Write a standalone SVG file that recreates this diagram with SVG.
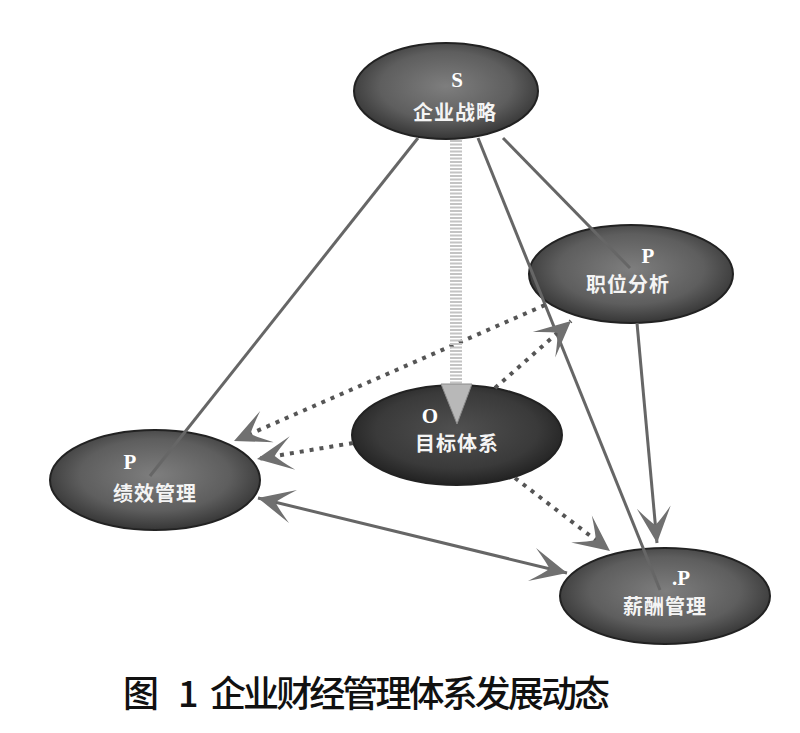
<svg xmlns="http://www.w3.org/2000/svg" width="800" height="733" viewBox="0 0 800 733">
<style>
.node{stroke:#222;stroke-width:2}
.lt{font-family:"Liberation Serif",serif;font-size:21px;font-weight:bold;fill:#fff;text-anchor:middle}
.lb{font-family:"Noto Sans CJK SC",sans-serif;font-size:20px;font-weight:bold;fill:#f4f4f4;text-anchor:middle;letter-spacing:1px}
.solid{fill:none;stroke:#666;stroke-width:3}
.dot{fill:none;stroke:#555;stroke-width:4;stroke-dasharray:4 6}
.cap{font-family:"Noto Sans CJK SC",sans-serif;font-size:36px;font-weight:500;fill:#111}
</style>
<defs>
<radialGradient id="g" cx="50%" cy="45%" r="55%">
<stop offset="0" stop-color="#7e7e7e"/>
<stop offset="0.65" stop-color="#5e5e5e"/>
<stop offset="1" stop-color="#363636"/>
</radialGradient>
<radialGradient id="gd" cx="50%" cy="45%" r="55%">
<stop offset="0" stop-color="#505050"/>
<stop offset="0.7" stop-color="#3a3a3a"/>
<stop offset="1" stop-color="#222"/>
</radialGradient>
<marker id="ah" viewBox="-38 -20 40 40" refX="0" refY="0" markerWidth="40" markerHeight="40" markerUnits="userSpaceOnUse" orient="auto-start-reverse">
<path d="M0,0 L-36,-17 Q-22,-5 -18,0 Q-22,5 -36,17 Z" fill="#707070"/>
</marker>
</defs>
<rect width="800" height="733" fill="#fff"/>
<g id="nodes">
<g id="node-s"><ellipse class="node" cx="446" cy="91" rx="92" ry="48" fill="url(#g)"/><text class="lt" x="457" y="87">S</text><text class="lb" x="455" y="120">企业战略</text></g>
<g id="node-p1"><ellipse class="node" cx="631" cy="274" rx="102" ry="49" fill="url(#g)"/><text class="lt" x="648" y="263">P</text><text class="lb" x="628" y="292">职位分析</text></g>
<g id="node-o"><ellipse class="node" cx="457" cy="435" rx="105" ry="50" fill="url(#gd)" stroke="#111"/><text class="lt" x="430" y="423">O</text><text class="lb" x="457" y="451">目标体系</text></g>
<g id="node-p2"><ellipse class="node" cx="155" cy="480" rx="105" ry="50" fill="url(#g)"/><text class="lt" x="130" y="469">P</text><text class="lb" x="155" y="501">绩效管理</text></g>
<g id="node-p3"><ellipse class="node" cx="665" cy="596" rx="105" ry="48" fill="url(#g)"/><text class="lt" x="681" y="585">.P</text><text class="lb" x="665" y="614">薪酬管理</text></g>
</g>
<g id="connectors">
<path class="solid" d="M418,138 L150,476"/>
<path class="solid" d="M503,138 L630,268"/>
<path class="solid" d="M478,138 L660,590"/>
<path class="solid" d="M637,323 L657,543" marker-end="url(#ah)"/>
<path class="solid" d="M258,498 L567,573" marker-start="url(#ah)" marker-end="url(#ah)"/>
<path class="dot" d="M545,305 L234,441" marker-end="url(#ah)"/>
<path class="dot" d="M353,443 L257,459" marker-end="url(#ah)"/>
<path class="dot" d="M495,388 L571,321" marker-end="url(#ah)"/>
<path class="dot" d="M515,478 L610,551" marker-end="url(#ah)"/>
<path d="M456,140 L456,386" fill="none" stroke="#c4c4c4" stroke-width="12" stroke-dasharray="2 1.5"/>
<path d="M441,384 L472,384 L457,424 Z" fill="#b8b8b8" stroke="#8a8a8a" stroke-width="1"/>
</g>
<g id="caption">
<text class="cap" x="123" y="707">图</text>
<text class="cap" x="178" y="707">1</text>
<text class="cap" x="210" y="707" textLength="400" lengthAdjust="spacing">企业财经管理体系发展动态</text>
</g>
</svg>
